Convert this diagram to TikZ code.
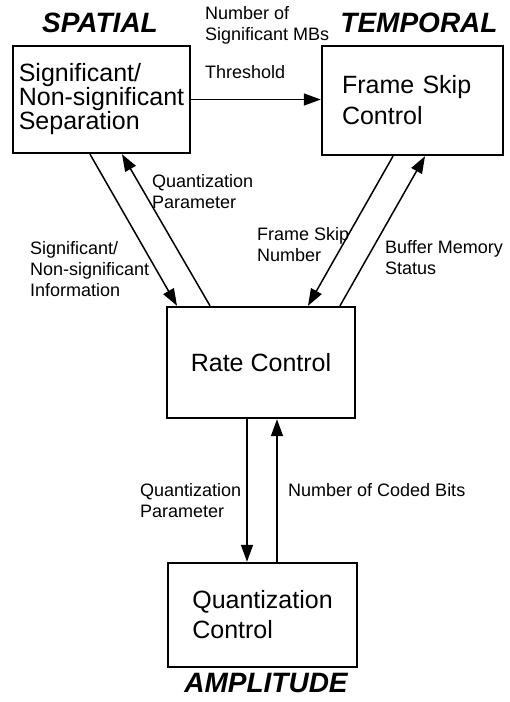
\documentclass[tikz,border=0pt]{standalone}
\usepackage{fontspec}
\setmainfont{Liberation Sans}
\usetikzlibrary{arrows.meta}

\begin{document}
\begin{tikzpicture}[x=1pt,y=-1pt,
	block/.style={draw, line width=2.4pt, align=left, inner sep=0pt, font=\fontsize{25}{24}\selectfont},
	lbl/.style={anchor=west, align=left, inner sep=0pt, font=\fontsize{18}{21}\selectfont},
	head/.style={inner sep=0pt, font=\fontsize{28}{28}\selectfont\bfseries\itshape},
	flow/.style={-{Triangle[length=17pt,width=12pt]}, line width=1.5pt}]
	\useasboundingbox (0,0) rectangle (510,702);

	\node[head] (spatialhead) at (100,22.5) {SPATIAL};
	\node[head] (temporalhead) at (419,23) {TEMPORAL};
	\node[head] (amplitudehead) at (266,683) {AMPLITUDE};

	\node[block, minimum width=177pt, minimum height=107pt] (spatial) at (101.5,99.5) {Significant/\\Non-significant\\Separation};
	\node[block, minimum width=181pt, minimum height=109pt, text width=141pt, font=\fontsize{25}{31}\selectfont] (temporal) at (412.5,100.5) {Frame Skip\\Control};
	\node[block, minimum width=188pt, minimum height=111pt] (rate) at (261,362.5) {Rate Control};
	\node[block, minimum width=189pt, minimum height=104pt, font=\fontsize{25}{30}\selectfont] (quant) at (262.5,615) {Quantization\\Control};

	\node[lbl] (mbs) at (205,25) {Number of\\Significant MBs};
	\node[lbl] (thresh) at (205,72) {Threshold};
	\node[lbl] (qpup) at (152,192) {Quantization\\Parameter};
	\node[lbl] (siginfo) at (30,269) {Significant/\\Non-significant\\Information};
	\node[lbl] (skipnum) at (257,245) {Frame Skip\\Number};
	\node[lbl] (buffer) at (385,258) {Buffer Memory\\Status};
	\node[lbl] (qpdown) at (140,501) {Quantization\\Parameter};
	\node[lbl] (bits) at (288,490) {Number of Coded Bits};

	\draw[flow] (spatial.east) -- (spatial.east -| temporal.west);

	\draw[flow] ([xshift=-11.5pt]spatial.south) -- ([xshift=-84pt]rate.north);
	\draw[flow] ([xshift=-51pt]rate.north) -- ([xshift=20.5pt]spatial.south);
	\draw[flow] ([xshift=-19.5pt]temporal.south) -- ([xshift=47pt]rate.north);
	\draw[flow] ([xshift=79pt]rate.north) -- ([xshift=12.5pt]temporal.south);

	\draw[flow] ([xshift=-14pt]rate.south) -- ([xshift=-14pt]rate.south |- quant.north);
	\draw[flow] ([xshift=16pt]rate.south |- quant.north) -- ([xshift=16pt]rate.south);

\end{tikzpicture}
\end{document}
